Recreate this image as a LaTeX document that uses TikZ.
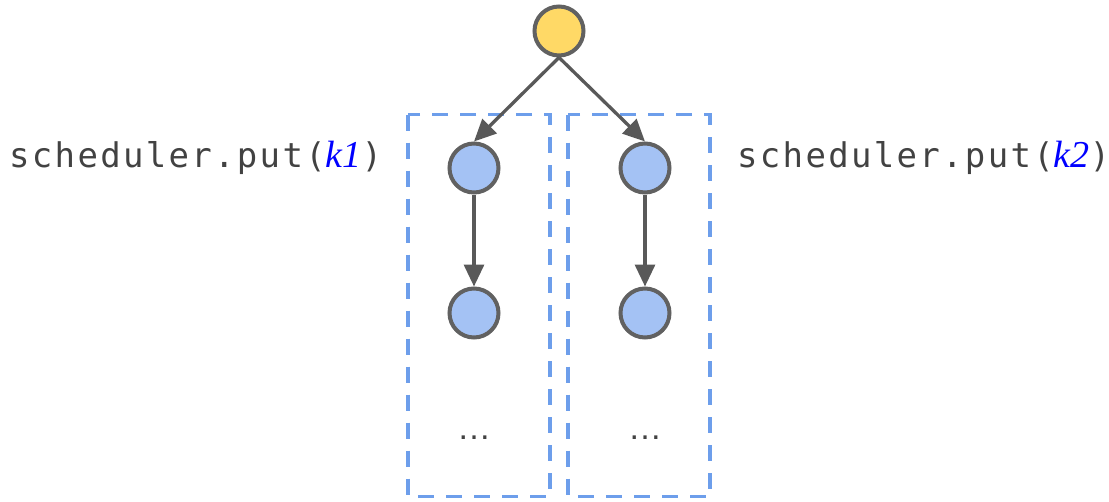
\documentclass[tikz,border=0pt]{standalone}
\usepackage{fontspec}
\usetikzlibrary{arrows.meta}
\newfontfamily\labelmono{DejaVu Sans Mono}[LetterSpace=6.8]
\newfontfamily\kserif{Liberation Serif}
\newfontfamily\dotfont{Liberation Sans}
\definecolor{strokegray}{HTML}{616161}
\definecolor{arrowgray}{HTML}{595959}
\definecolor{nodeblue}{HTML}{A4C2F4}
\definecolor{nodeyellow}{HTML}{FFD966}
\definecolor{dashblue}{HTML}{6D9EEB}
\definecolor{textgray}{HTML}{424242}
\definecolor{kblue}{HTML}{0000FF}
\tikzset{
  treenode/.style={circle, draw=strokegray, line width=4pt, minimum size=49pt, inner sep=0pt},
  rootnode/.style={treenode, fill=nodeyellow},
  childnode/.style={treenode, fill=nodeblue},
  edge/.style={draw=arrowgray, line width=3.3pt, -{Triangle[length=22pt,width=20pt]}},
  groupbox/.style={draw=dashblue, line width=3.3pt, dash pattern=on 16pt off 12pt},
  putlabel/.style={inner sep=0pt, anchor=base west, text=textgray, font=\labelmono\fontsize{34}{38}\selectfont},
  dotslabel/.style={inner sep=0pt, text=textgray, font=\dotfont\fontsize{34}{40}\selectfont}
}
\newcommand{\kvar}[1]{{\kserif\itshape\fontsize{38}{40}\selectfont\color{kblue}#1}}
\begin{document}
\begin{tikzpicture}[x=1pt,y=-1pt]
\useasboundingbox (0,0) rectangle (1109,501);
\draw[groupbox] (408,114.5) rectangle (550,496.5);
\draw[groupbox] (568,114.5) rectangle (710,496.5);
\node[rootnode] (root) at (559,31) {};
\node[childnode] (a1) at (474,168) {};
\node[childnode] (b1) at (645,168) {};
\node[childnode] (a2) at (474,313) {};
\node[childnode] (b2) at (645,313) {};
\node[dotslabel] (adots) at (474,438) {…};
\node[dotslabel] (bdots) at (645,438) {…};
\path[edge] (root.south) -- (a1.north);
\path[edge] (root.south) -- (b1.north);
\path[edge] (a1) -- (a2);
\path[edge] (b1) -- (b2);
\node[putlabel] (lab1) at (9,167) {scheduler.put(\kvar{k1})};
\node[putlabel] (lab2) at (737,167) {scheduler.put(\kvar{k2})};
\end{tikzpicture}
\end{document}
